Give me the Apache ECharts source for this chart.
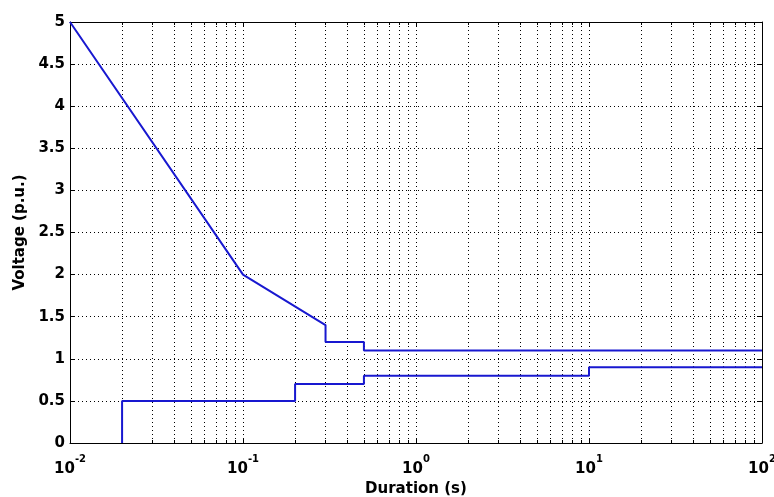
<!DOCTYPE html>
<html><head><meta charset="utf-8">
<script src="https://cdn.jsdelivr.net/npm/echarts@6/dist/echarts.min.js"></script>
<style>html,body{margin:0;padding:0;background:#fff}#c{width:774px;height:497px}</style>
</head><body><div id="c"></div>
<script>
const upperX = [0.01, 0.1, 0.3, 0.3, 0.5, 0.5, 100];
const upperY = [5, 2, 1.4, 1.2, 1.2, 1.1, 1.1];
const lowerX = [0.02, 0.02, 0.2, 0.2, 0.5, 0.5, 10, 10, 100];
const lowerY = [0, 0.5, 0.5, 0.7, 0.7, 0.8, 0.8, 0.9, 0.9];
const yTicks = [0, 0.5, 1, 1.5, 2, 2.5, 3, 3.5, 4, 4.5, 5];
const xTitle = 'Duration (s)';
const yTitle = 'Voltage (p.u.)';

const FONT = 'DejaVu Sans';
const chart = echarts.init(document.getElementById('c'));
const dotted = {type: [1, 3], color: '#000', width: 1};
function pair(xs, ys){ return xs.map((x,i)=>[x, ys[i]]); }
function expLabel(v){
  const e = Math.round(Math.log10(v));
  return '{b|10}{s|' + e + '}';
}
const xBase = {
  type: 'log', logBase: 10, min: 0.01, max: 100,
  axisLine: {show: true, onZero: false, lineStyle: {color: '#000', width: 1}},
  axisTick: {show: true, inside: true, length: 5, lineStyle: {color: '#000'}},
  minorTick: {show: true, splitNumber: 9, length: 3, lineStyle: {color: '#000'}},
};
const yBase = {
  type: 'value', min: 0, max: 5, interval: 0.5,
  axisLine: {show: true, onZero: false, lineStyle: {color: '#000', width: 1}},
  axisTick: {show: true, inside: true, length: 5, lineStyle: {color: '#000'}},
};
chart.setOption({
  animation: false,
  backgroundColor: '#fff',
  grid: {left: 70, right: 12, top: 22, bottom: 54, containLabel: false, outerBoundsMode: 'none'},
  xAxis: [
    Object.assign({}, xBase, {
      position: 'bottom',
      name: xTitle, nameLocation: 'middle', nameGap: 38,
      nameTextStyle: {fontFamily: FONT, fontSize: 15, fontWeight: 'bold', color: '#000'},
      axisLabel: {
        margin: 11, formatter: expLabel,
        rich: {
          b: {fontFamily: FONT, fontSize: 15, fontWeight: 'bold', color: '#000', lineHeight: 23, verticalAlign: 'bottom'},
          s: {fontFamily: FONT, fontSize: 10, fontWeight: 'bold', color: '#000', lineHeight: 10, verticalAlign: 'top'}
        }
      },
      splitLine: {show: true, lineStyle: dotted},
      minorSplitLine: {show: true, lineStyle: dotted}
    }),
    Object.assign({}, xBase, {
      position: 'top', axisLabel: {show: false}, splitLine: {show: false}
    })
  ],
  yAxis: [
    Object.assign({}, yBase, {
      position: 'left',
      name: yTitle, nameLocation: 'middle', nameGap: 41, nameRotate: 90,
      nameTextStyle: {fontFamily: FONT, fontSize: 15, fontWeight: 'bold', color: '#000'},
      axisLabel: {margin: 5, fontFamily: FONT, fontSize: 15, fontWeight: 'bold', color: '#000',
        formatter: v => String(v)},
      splitLine: {show: true, lineStyle: dotted}
    }),
    Object.assign({}, yBase, {
      position: 'right', axisLabel: {show: false}, splitLine: {show: false}
    })
  ],
  series: [
    {type: 'line', data: pair(upperX, upperY), showSymbol: false, symbol: 'none',
      lineStyle: {color: '#1818d0', width: 2}, z: 5},
    {type: 'line', data: pair(lowerX, lowerY), showSymbol: false, symbol: 'none',
      lineStyle: {color: '#1818d0', width: 2}, z: 5}
  ]
});
</script></body></html>
